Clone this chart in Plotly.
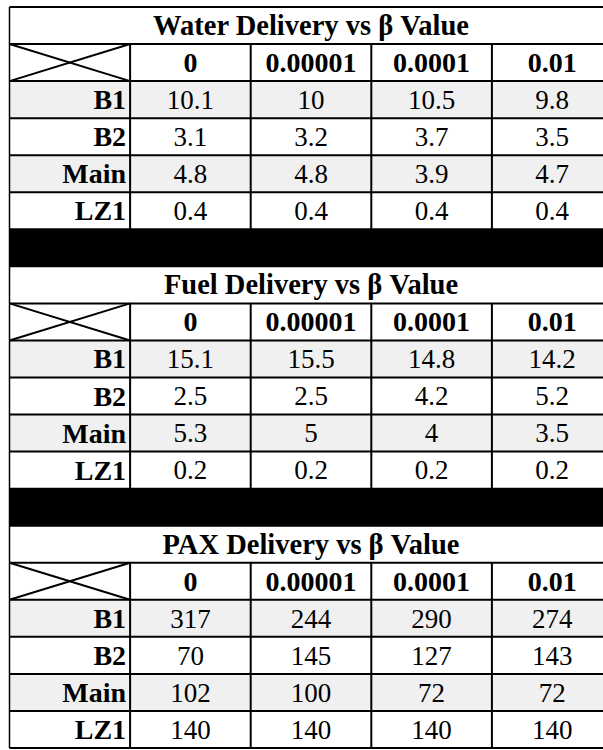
import plotly.graph_objects as go

# ---- data ----
titles = ["Water Delivery vs β Value", "Fuel Delivery vs β Value", "PAX Delivery vs β Value"]
beta_labels = ["0", "0.00001", "0.0001", "0.01"]
row_labels = ["B1", "B2", "Main", "LZ1"]
water_values = [[10.1, 10, 10.5, 9.8],
                [3.1, 3.2, 3.7, 3.5],
                [4.8, 4.8, 3.9, 4.7],
                [0.4, 0.4, 0.4, 0.4]]
fuel_values = [[15.1, 15.5, 14.8, 14.2],
               [2.5, 2.5, 4.2, 5.2],
               [5.3, 5, 4, 3.5],
               [0.2, 0.2, 0.2, 0.2]]
pax_values = [[317, 244, 290, 274],
              [70, 145, 127, 143],
              [102, 100, 72, 72],
              [140, 140, 140, 140]]
blocks = [water_values, fuel_values, pax_values]

# ---- layout geometry (pixels) ----
W, H = 603, 750
left_px, top_px = 9.5, 7.0
col_w, row_h = 120.6, 37.05
text_drop = 2.5 / row_h
ncols = 1 + len(beta_labels)
nrows = len(blocks) * (2 + len(row_labels)) + (len(blocks) - 1)

FONT = "Liberation Serif"
GRAY = "#f0f0f0"

# ---- row structure ----
row_kind = []  # ('title'|'header'|'data'|'sep', block, row index)
for b in range(len(blocks)):
    row_kind.append(("title", b, None))
    row_kind.append(("header", b, None))
    for i in range(len(row_labels)):
        row_kind.append(("data", b, i))
    if b < len(blocks) - 1:
        row_kind.append(("sep", b, None))

# ---- cell fills via heatmap ----
z = []
for kind, b, i in row_kind:
    if kind == "sep":
        z.append([2] * ncols)
    elif kind == "data" and i % 2 == 0:
        z.append([1] * ncols)
    else:
        z.append([0] * ncols)

fig = go.Figure()
fig.add_trace(go.Heatmap(
    z=z,
    x=[c + 0.5 for c in range(ncols)],
    y=[r + 0.5 for r in range(nrows)],
    colorscale=[[0, "#ffffff"], [0.25, "#ffffff"], [0.25, GRAY], [0.75, GRAY],
                [0.75, "#000000"], [1, "#000000"]],
    zmin=0, zmax=2, showscale=False, hoverinfo="skip",
))

# ---- text ----
title_x, title_y, title_t = [], [], []
head_x, head_y, head_t = [], [], []
lab_x, lab_y, lab_t = [], [], []
val_x, val_y, val_t = [], [], []
for r, (kind, b, i) in enumerate(row_kind):
    yc = r + 0.5 + text_drop
    if kind == "title":
        title_x.append(ncols / 2); title_y.append(yc); title_t.append(titles[b])
    elif kind == "header":
        for c, lab in enumerate(beta_labels):
            head_x.append(c + 1.5); head_y.append(yc); head_t.append(lab)
    elif kind == "data":
        lab_x.append(1 - 4 / col_w); lab_y.append(yc); lab_t.append(row_labels[i])
        for c, v in enumerate(blocks[b][i]):
            val_x.append(c + 1.5); val_y.append(yc); val_t.append(str(v))

title_font = dict(family=FONT, size=28.5, color="black", weight="bold")
bold = dict(family=FONT, size=28, color="black", weight="bold")
reg = dict(family=FONT, size=27, color="black")
fig.add_trace(go.Scatter(x=title_x, y=title_y, text=title_t, mode="text",
                         textposition="middle center", textfont=title_font, hoverinfo="skip"))
fig.add_trace(go.Scatter(x=head_x, y=head_y, text=head_t, mode="text",
                         textposition="middle center", textfont=bold, hoverinfo="skip"))
fig.add_trace(go.Scatter(x=lab_x, y=lab_y, text=lab_t, mode="text",
                         textposition="middle left", textfont=bold, hoverinfo="skip"))
fig.add_trace(go.Scatter(x=val_x, y=val_y, text=val_t, mode="text",
                         textposition="middle center", textfont=reg, hoverinfo="skip"))

# ---- borders ----
shapes = []
def seg(x0, y0, x1, y1, w=2):
    shapes.append(dict(type="line", xref="x", yref="y", x0=x0, x1=x1, y0=y0, y1=y1,
                       line=dict(color="black", width=w)))

for r in range(nrows + 1):
    seg(0, r, ncols, r, 2)
seg(0, 0, 0, nrows, 1.5)
for r, (kind, b, i) in enumerate(row_kind):
    if kind in ("header", "data"):
        for c in range(1, ncols + 1):
            seg(c, r, c, r + 1, 2)
    if kind == "header":
        seg(0, r, 1, r + 1, 2)
        seg(0, r + 1, 1, r, 2)

x_range = [-left_px / col_w, (W - left_px) / col_w]
y_range = [(H - top_px) / row_h, -top_px / row_h]

fig.update_layout(
    width=W, height=H,
    margin=dict(l=0, r=0, t=0, b=0),
    paper_bgcolor="white", plot_bgcolor="white",
    showlegend=False,
    shapes=shapes,
    xaxis=dict(range=x_range, visible=False, fixedrange=True),
    yaxis=dict(range=y_range, visible=False, fixedrange=True),
)
fig.write_html("out.html", config={"displayModeBar": False, "staticPlot": True},
               post_script="document.body.style.margin='0';")
